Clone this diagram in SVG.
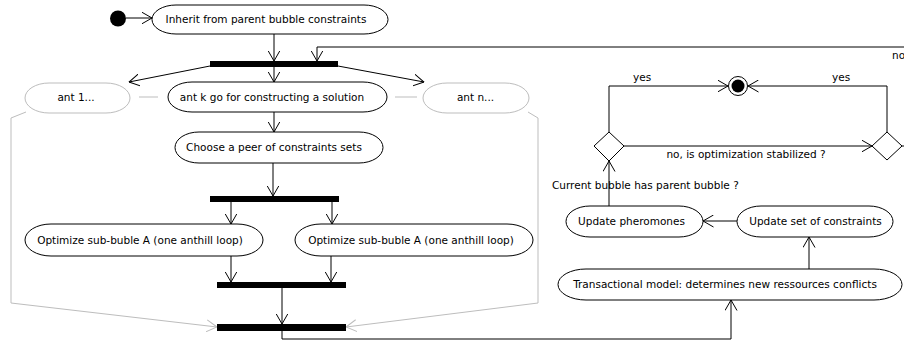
<svg xmlns="http://www.w3.org/2000/svg" width="904" height="341" viewBox="0 0 904 341">
<style>
.n{fill:#fff;stroke:#000;stroke-width:1}
.g{fill:#fff;stroke:#bdbdbd;stroke-width:1}
.t{font-family:"DejaVu Sans",sans-serif;font-size:10.5px;fill:#000;text-anchor:middle}
.l{font-family:"DejaVu Sans",sans-serif;font-size:10.5px;fill:#000}
.c{fill:none;stroke:#000;stroke-width:1}
.cg{fill:none;stroke:#bdbdbd;stroke-width:1}
.bar{fill:#000}
</style>
<defs>
<marker id="a" markerUnits="userSpaceOnUse" viewBox="0 0 11 13" refX="10.5" refY="6.5" markerWidth="11" markerHeight="13" orient="auto"><path d="M0,0.5 L10.5,6.5 L0,12.5" fill="none" stroke="#000" stroke-width="1"/></marker>
<marker id="ag" markerUnits="userSpaceOnUse" viewBox="0 0 11 13" refX="10.5" refY="6.5" markerWidth="11" markerHeight="13" orient="auto"><path d="M0,0.5 L10.5,6.5 L0,12.5" fill="none" stroke="#bdbdbd" stroke-width="1"/></marker>
</defs>
<g id="connectors">
<path class="c" d="M126,18 L152,18" marker-end="url(#a)"/>
<path class="c" d="M274,34 L274,61" marker-end="url(#a)"/>
<path class="c" d="M904,47 L317,47 L317,61" marker-end="url(#a)"/>
<path class="c" d="M210,66 L129,82" marker-end="url(#a)"/>
<path class="c" d="M338,66 L424,82" marker-end="url(#a)"/>
<path class="c" d="M274,67 L274,82" marker-end="url(#a)"/>
<path class="cg" d="M139,97 L158,97"/>
<path class="cg" d="M395,97 L417,97"/>
<path class="c" d="M274,112 L274,132" marker-end="url(#a)"/>
<path class="c" d="M273,163 L273,196" marker-end="url(#a)"/>
<path class="c" d="M231,202 L231,224" marker-end="url(#a)"/>
<path class="c" d="M332,202 L332,224" marker-end="url(#a)"/>
<path class="c" d="M231,256 L231,282" marker-end="url(#a)"/>
<path class="c" d="M331,256 L331,282" marker-end="url(#a)"/>
<path class="c" d="M282,288 L282,324" marker-end="url(#a)"/>
<path class="cg" d="M26,112 L11,118 L11,303 L217,327" marker-end="url(#ag)"/>
<path class="cg" d="M528,112 L538,118 L538,303 L346,327" marker-end="url(#ag)"/>
<path class="c" d="M282,331 L282,339 L731,339 L731,300" marker-end="url(#a)"/>
<path class="c" d="M809,269 L809,237" marker-end="url(#a)"/>
<path class="c" d="M737,221 L703,221" marker-end="url(#a)"/>
<path class="c" d="M609,206 L609,161" marker-end="url(#a)"/>
<path class="c" d="M609,132 L609,86 L728,86" marker-end="url(#a)"/>
<path class="c" d="M887,132 L887,86 L748,86" marker-end="url(#a)"/>
<path class="c" d="M624,146 L872,146" marker-end="url(#a)"/>
<path class="c" d="M902,146 L904,146"/>
<text class="l" x="633" y="81">yes</text>
<text class="l" x="832" y="81">yes</text>
<text class="l" x="892" y="59">no</text>
<text class="t" x="746" y="158">no, is optimization stabilized ?</text>
<text class="l" x="552" y="189">Current bubble has parent bubble ?</text>
</g>
<g id="start"><circle cx="118" cy="18.5" r="8" fill="#000"/></g>
<g id="inherit"><rect class="n" x="152" y="5" width="236" height="29" rx="24" ry="14.5"/><text class="t" x="266" y="23">Inherit from parent bubble constraints</text></g>
<g id="bar1"><rect class="bar" x="210" y="61" width="128" height="6"/></g>
<g id="ant1"><rect class="g" x="25" y="83" width="105" height="30" rx="24" ry="15"/><text class="t" x="76" y="101">ant 1...</text></g>
<g id="antk"><rect class="n" x="168" y="82" width="219" height="30" rx="24" ry="15"/><text class="t" x="272" y="100.5">ant k go for constructing a solution</text></g>
<g id="antn"><rect class="g" x="423" y="83" width="106" height="30" rx="24" ry="15"/><text class="t" x="475.5" y="101">ant n...</text></g>
<g id="choose"><rect class="n" x="175" y="132" width="208" height="31" rx="24" ry="15.5"/><text class="t" x="274" y="150.5">Choose a peer of constraints sets</text></g>
<g id="bar2"><rect class="bar" x="210" y="196" width="129" height="6"/></g>
<g id="optA1"><rect class="n" x="25" y="224" width="238" height="32" rx="26" ry="16"/><text class="t" x="140" y="243.5">Optimize sub-buble A (one anthill loop)</text></g>
<g id="optA2"><rect class="n" x="295" y="224" width="238" height="32" rx="26" ry="16"/><text class="t" x="411" y="243.5">Optimize sub-buble A (one anthill loop)</text></g>
<g id="bar4"><rect class="bar" x="217" y="282" width="129" height="6"/></g>
<g id="bar5"><rect class="bar" x="217" y="324" width="129" height="7"/></g>
<g id="transactional"><rect class="n" x="558" y="269" width="344" height="31" rx="28" ry="15.5"/><text class="t" x="725" y="288">Transactional model: determines new ressources conflicts</text></g>
<g id="updateSet"><rect class="n" x="737" y="206" width="156" height="31" rx="24" ry="15.5"/><text class="t" x="815.5" y="225">Update set of constraints</text></g>
<g id="updatePher"><rect class="n" x="566" y="206" width="137" height="31" rx="24" ry="15.5"/><text class="t" x="631.5" y="225">Update pheromones</text></g>
<g id="decision1"><path class="n" d="M609,132 L624,146 L609,161 L594,146 Z"/></g>
<g id="decision2"><path class="n" d="M887,132 L902,146 L887,160 L872,146 Z"/></g>
<g id="final"><circle cx="738" cy="86" r="9.5" fill="#fff" stroke="#000"/><circle cx="738" cy="86" r="6.5" fill="#000"/></g>
</svg>
